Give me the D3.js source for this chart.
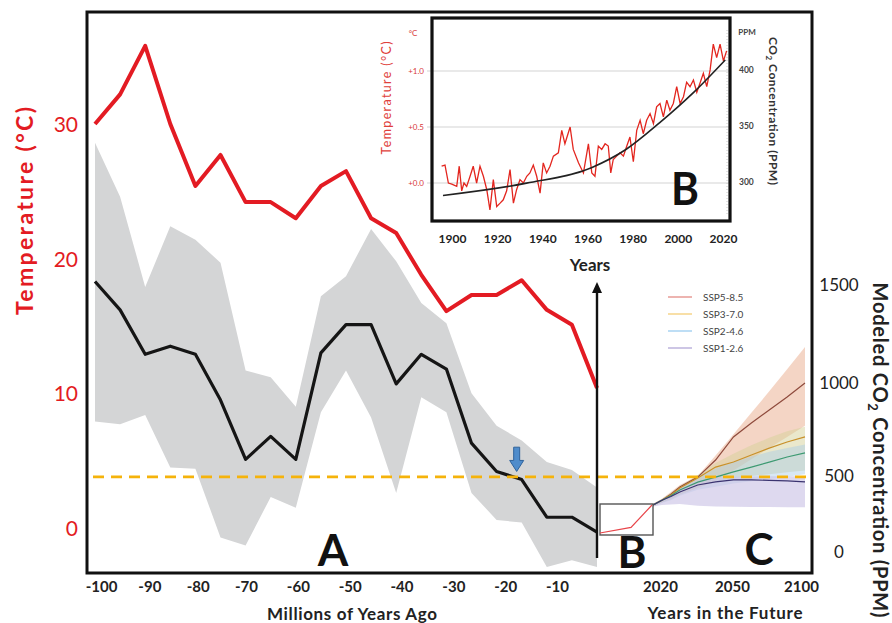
<!DOCTYPE html>
<html>
<head>
<meta charset="utf-8">
<script src="https://cdn.jsdelivr.net/npm/d3@7"></script>
<style>
  body { margin: 0; background: #fff; }
  svg text { font-family: Lato, "Open Sans", sans-serif; }
</style>
</head>
<body>
<script>
// ---- panel A: last 100 million years ----
const myaAgo   = [-100,-95,-90,-85,-80,-75,-70,-65,-60,-55,-50,-45,-40,-35,-30,-25,-20,-15,-10,-5,0];
const redTemp  = [30.0,32.2,35.8,30.0,25.4,27.7,24.2,24.2,23.0,25.4,26.5,23.0,21.9,18.8,16.1,17.3,17.3,18.4,16.2,15.1,10.4];
const meanTemp = [18.3,16.2,12.9,13.5,12.9,9.5,5.1,6.8,5.1,13.0,15.1,15.1,10.7,12.9,11.8,6.3,4.2,3.6,0.8,0.8,-0.3];
const bandHigh = [28.6,24.6,17.9,22.4,21.4,19.7,11.7,11.2,9.0,17.2,18.7,22.2,19.8,16.7,15.2,10.0,7.6,6.5,4.9,4.3,3.0];
const bandLow  = [7.9,7.7,8.4,4.5,4.4,-0.7,-1.3,2.3,1.5,8.6,11.7,8.2,2.6,9.7,8.6,2.6,0.6,0.4,-2.9,-2.4,-2.9];
const mTicks   = [-100,-90,-80,-70,-60,-50,-40,-30,-20,-10];
const tTicks   = [0,10,20,30];
const thresholdT = 3.8;          // dashed line (~500 ppm)
const arrowMark = {t: -16, top: 6.0, tip: 4.2};

// ---- panel B inset: 1895-2021 ----
const insetYears = [1895.4,1896.9,1898.4,1899.9,1902.1,1903.2,1904.3,1905.3,1906.5,1908.0,
  1909.4,1910.9,1912.4,1913.9,1915.4,1916.8,1918.3,1919.8,1921.3,1922.7,
  1924.2,1925.7,1927.2,1928.6,1930.1,1931.6,1933.1,1934.5,1936.0,1937.5,
  1939.0,1940.4,1941.9,1943.4,1944.9,1947.1,1948.6,1950.0,1952.3,1953.7,
  1956.0,1958.2,1960.4,1961.9,1963.3,1964.8,1966.3,1967.8,1969.2,1970.3,
  1971.4,1972.9,1974.4,1975.9,1977.4,1978.8,1980.3,1981.8,1983.3,1984.7,
  1986.2,1987.7,1989.2,1990.6,1992.1,1993.6,1995.1,1996.5,1998.0,1999.5,
  2001.0,2002.5,2003.9,2005.4,2006.9,2008.4,2009.8,2011.3,2012.8,2014.3,
  2015.7,2017.2,2018.7,2020.2,2021.6];
const insetTemp = [0.15,0.16,0.00,-0.01,-0.03,0.15,-0.07,0.00,-0.03,0.06,
  0.15,0.00,0.15,0.06,-0.06,-0.24,0.03,-0.21,-0.18,-0.15,
  -0.07,0.12,-0.18,-0.06,0.03,0.00,0.06,0.09,0.16,0.06,
  -0.09,0.18,0.09,0.15,0.24,0.27,0.47,0.35,0.50,0.30,
  0.18,0.09,0.35,0.09,0.06,0.33,0.30,0.35,0.33,0.09,
  0.21,0.24,0.27,0.24,0.33,0.41,0.19,0.47,0.56,0.44,
  0.56,0.62,0.53,0.68,0.71,0.59,0.74,0.65,0.71,0.86,
  0.71,0.77,0.90,0.86,0.92,0.81,0.89,0.98,0.86,1.01,
  1.24,1.12,1.24,1.09,1.18];
const co2Years = [1896,1933,1962,1977,1992,2007,2021];
const co2Vals  = [288,299,313,329,353,380,409];
const insetYearTicks = [1900,1920,1940,1960,1980,2000,2020];
const insetTempTicks = [0,0.5,1.0];
const insetCo2Ticks  = [300,350,400];
const miniYears = [1896,1970,2020];
const miniTemp  = [0,0.2,1.0];

// ---- panel C: SSP projections ----
const fanYears = [2015,2020,2025,2030,2040,2050,2060,2070,2080,2090,2100];
const ssp585   = [309,340,380,428,493,586,710,785,855,925,1000];
const ssp370   = [309,340,375,421,487,548,575,613,650,683,710];
const ssp245   = [309,340,370,408,460,493,522,548,575,602,624];
const ssp126   = [309,340,365,395,441,461,474,474,471,468,461];
const ssp585Hi = [318,350,395,440,500,610,725,840,955,1070,1184];
const ssp585Lo = [300,325,350,380,420,470,530,590,650,710,770];
const ssp370Hi = [316,348,390,432,505,570,620,665,705,740,765];
const ssp370Lo = [300,325,345,375,425,460,485,500,510,520,530];
const ssp245Hi = [315,346,385,425,490,540,575,605,630,650,670];
const ssp245Lo = [300,322,340,370,410,430,450,465,480,495,510];
const ssp126Hi = [314,344,380,420,470,490,495,497,498,498,498];
const ssp126Lo = [300,310,312,315,305,300,298,296,296,295,294];
const scenNames = ["SSP5-8.5","SSP3-7.0","SSP2-4.6","SSP1-2.6"];
const futureTicks = [2020,2050,2100];
const ppmTicks = [0,500,1000,1500];

const W = 892, H = 623;
const svg = d3.select("body").append("svg").attr("width", W).attr("height", H);
svg.append("rect").attr("width", W).attr("height", H).attr("fill", "#fff");

// scales
const xA = d3.scaleLinear().domain([-100, 0]).range([95, 597]);
const xALab = d3.scaleLinear().domain([-100, -70, -10]).range([101, 246, 557]);
const yT = d3.scaleLinear().domain([0, 30]).range([528, 124]);
const xC = d3.scaleLinear().domain([2015, 2100]).range([653, 805]);
const xCLab = d3.scaleLinear().domain([2020, 2050, 2100]).range([660, 732, 801]);
const yC = d3.scaleLinear().domain([0, 500, 1000, 1500]).range([552, 476, 383, 285]);
const xI = d3.scaleLinear().domain([1900, 2020]).range([452, 723]);
const yI = d3.scaleLinear().domain([0, 1]).range([183, 71]);
const yIco2 = d3.scaleLinear().domain([300, 400]).range([182, 70]);
const xB = d3.scaleLinear().domain([1896, 2020]).range([600, 652]);
const yB = d3.scaleLinear().domain([0, 1]).range([533, 505]);

const RED = "#e31b23";

// grey band
const band = d3.area()
  .x((d, i) => xA(myaAgo[i]))
  .y0((d, i) => yT(bandLow[i]))
  .y1((d, i) => yT(bandHigh[i]));
svg.append("path").datum(myaAgo).attr("d", band).attr("fill", "#d4d5d6");

// fan (panel C)
const fanSets = [
  {lo: ssp585Lo, hi: ssp585Hi, fill: "#f1cbb6", op: 0.8},
  {lo: ssp370Lo, hi: ssp370Hi, fill: "#d6d19a", op: 0.5},
  {lo: ssp245Lo, hi: ssp245Hi, fill: "#a9cbe6", op: 0.45},
  {lo: ssp126Lo, hi: ssp126Hi, fill: "#cdc4e6", op: 0.65}
];
fanSets.forEach(function(s) {
  const a = d3.area()
    .x((d, i) => xC(fanYears[i]))
    .y0((d, i) => yC(s.lo[i]))
    .y1((d, i) => yC(s.hi[i]));
  svg.append("path").datum(fanYears).attr("d", a)
    .attr("fill", s.fill).attr("fill-opacity", s.op);
});
const scenLines = [
  {vals: ssp585, color: "#8e4a3c", legend: "#e79b96"},
  {vals: ssp370, color: "#c8902a", legend: "#f6d48a"},
  {vals: ssp245, color: "#3d9a72", legend: "#a9d3f2"},
  {vals: ssp126, color: "#3b3470", legend: "#bdb3dc"}
];
scenLines.forEach(function(s) {
  const l = d3.line().x((d, i) => xC(fanYears[i])).y(d => yC(d));
  svg.append("path").datum(s.vals).attr("d", l)
    .attr("fill", "none").attr("stroke", s.color).attr("stroke-width", 1.2);
});

// legend
scenNames.forEach(function(name, i) {
  const y = 297 + i * 17;
  svg.append("line").attr("x1", 668).attr("x2", 692).attr("y1", y).attr("y2", y)
    .attr("stroke", scenLines[i].legend).attr("stroke-width", 1.5);
  svg.append("text").attr("x", 703).attr("y", y + 3.5).text(name)
    .attr("font-size", "10px").attr("fill", "#444");
});

// temperature lines
const lineA = vals => d3.line().x((d, i) => xA(myaAgo[i])).y(d => yT(d))(vals);
svg.append("path").attr("d", lineA(meanTemp))
  .attr("fill", "none").attr("stroke", "#151515").attr("stroke-width", 3.2)
  .attr("stroke-linejoin", "round");
svg.append("path").attr("d", lineA(redTemp))
  .attr("fill", "none").attr("stroke", RED).attr("stroke-width", 4)
  .attr("stroke-linejoin", "round");

// dashed threshold line
svg.append("line")
  .attr("x1", xA(-100) - 2).attr("x2", xC(2100) + 3)
  .attr("y1", yT(thresholdT)).attr("y2", yT(thresholdT))
  .attr("stroke", "#f5b30b").attr("stroke-width", 2.6)
  .attr("stroke-dasharray", "11,7");

// blue arrow
{
  const ax = xA(arrowMark.t), y0 = yT(arrowMark.top), y1 = yT(arrowMark.tip);
  const p = d3.path();
  p.moveTo(ax - 3, y0); p.lineTo(ax + 3, y0); p.lineTo(ax + 3, y1 - 11);
  p.lineTo(ax + 7, y1 - 11); p.lineTo(ax, y1); p.lineTo(ax - 7, y1 - 11);
  p.lineTo(ax - 3, y1 - 11); p.closePath();
  svg.append("path").attr("d", p.toString())
    .attr("fill", "#4f8ccb").attr("stroke", "#2f639c").attr("stroke-width", 1);
}

// small box B with the recent warming
svg.append("rect").attr("x", 600).attr("y", 504).attr("width", 53).attr("height", 31)
  .attr("fill", "none").attr("stroke", "#555").attr("stroke-width", 1.4);
svg.append("path")
  .attr("d", d3.line().x((d, i) => xB(miniYears[i])).y(d => yB(d))(miniTemp))
  .attr("fill", "none").attr("stroke", "#e8454a").attr("stroke-width", 1.2);

// divider arrow between A and B
{
  const x0 = xA(0);
  svg.append("line").attr("x1", x0).attr("x2", x0).attr("y1", 558).attr("y2", 290)
    .attr("stroke", "#111").attr("stroke-width", 2.4);
  svg.append("path").attr("d", `M${x0},282 L${x0 + 5},293 L${x0 - 5},293 Z`).attr("fill", "#111");
}

// main frame
svg.append("rect").attr("x", 87).attr("y", 12).attr("width", 725).attr("height", 561)
  .attr("fill", "none").attr("stroke", "#111").attr("stroke-width", 3);

// axes
const axL = svg.append("g").attr("transform", "translate(87,0)")
  .call(d3.axisLeft(yT).tickValues(tTicks).tickSize(0).tickPadding(9));
axL.select(".domain").remove();
axL.selectAll("text").attr("fill", RED).attr("font-size", "21px").attr("dy", "0.35em");

const axB = svg.append("g").attr("transform", "translate(0,573)")
  .call(d3.axisBottom(xALab).tickValues(mTicks).tickSize(0).tickPadding(8).tickFormat(d => String(d)));
axB.select(".domain").remove();
axB.selectAll("text").attr("fill", "#222").attr("font-size", "15px").attr("font-weight", "bold");

const axC = svg.append("g").attr("transform", "translate(0,573)")
  .call(d3.axisBottom(xCLab).tickValues(futureTicks).tickSize(0).tickPadding(8).tickFormat(d => String(d)));
axC.select(".domain").remove();
axC.selectAll("text").attr("fill", "#222").attr("font-size", "15px").attr("font-weight", "bold");

const axR = svg.append("g").attr("transform", "translate(812,0)")
  .call(d3.axisRight(yC).tickValues(ppmTicks).tickSize(0).tickPadding(27).tickFormat(d => String(d)));
axR.select(".domain").remove();
axR.selectAll("text").attr("fill", "#222").attr("font-size", "17px").attr("text-anchor", "middle");

// axis titles
svg.append("text").attr("transform", "translate(33,211) rotate(-90)")
  .attr("text-anchor", "middle").attr("fill", RED).attr("font-size", "23px")
  .attr("font-weight", "bold").attr("textLength", 208).text("Temperature (°C)");
svg.append("text").attr("x", 352).attr("y", 620).attr("text-anchor", "middle")
  .attr("font-size", "17px").attr("font-weight", "bold").attr("fill", "#222")
  .attr("textLength", 170).text("Millions of Years Ago");
svg.append("text").attr("x", 725).attr("y", 619).attr("text-anchor", "middle")
  .attr("font-size", "17px").attr("font-weight", "bold").attr("fill", "#222")
  .attr("textLength", 155).text("Years in the Future");
{
  const t = svg.append("text").attr("transform", "translate(873,450) rotate(90)")
    .attr("text-anchor", "middle").attr("font-size", "20px").attr("font-weight", "bold")
    .attr("fill", "#222").attr("textLength", 335);
  t.append("tspan").text("Modeled CO");
  t.append("tspan").attr("dy", 5).attr("font-size", "13px").text("2");
  t.append("tspan").attr("dy", -5).text(" Concentration (PPM)");
}

// big panel letters
[["A", 333, 566], ["B", 632, 568], ["C", 759, 565]].forEach(function(l) {
  svg.append("text").attr("x", l[1]).attr("y", l[2]).attr("text-anchor", "middle")
    .attr("font-family", "'Liberation Sans', Arial, sans-serif")
    .attr("font-size", "44px").attr("font-weight", "bold").attr("fill", "#111").text(l[0]);
});

// ---- inset chart ----
const inset = svg.append("g");
inset.append("rect").attr("x", 432).attr("y", 18).attr("width", 298).attr("height", 203)
  .attr("fill", "#fff");
insetTempTicks.forEach(function(t) {
  inset.append("line").attr("x1", 427).attr("x2", 730).attr("y1", yI(t)).attr("y2", yI(t))
    .attr("stroke", "#e2e2e2").attr("stroke-width", 1.3);
});
inset.append("line").attr("x1", 727).attr("x2", 727).attr("y1", 30).attr("y2", 215)
  .attr("stroke", "#c8c8c8").attr("stroke-dasharray", "1,2");
inset.append("path")
  .attr("d", d3.line().x((d, i) => xI(insetYears[i])).y(d => yI(d))(insetTemp))
  .attr("fill", "none").attr("stroke", "#e3261f").attr("stroke-width", 1.3);
inset.append("path")
  .attr("d", d3.line().curve(d3.curveMonotoneX).x((d, i) => xI(co2Years[i])).y(d => yIco2(d))(co2Vals))
  .attr("fill", "none").attr("stroke", "#222").attr("stroke-width", 1.6);
inset.append("rect").attr("x", 432).attr("y", 18).attr("width", 298).attr("height", 203)
  .attr("fill", "none").attr("stroke", "#111").attr("stroke-width", 3.2);

const iaL = inset.append("g").attr("transform", "translate(424,0)")
  .call(d3.axisLeft(yI).tickValues(insetTempTicks).tickSize(0).tickPadding(0)
    .tickFormat(d => "+" + d.toFixed(1)));
iaL.select(".domain").remove();
iaL.selectAll("text").attr("fill", "#d8383a").attr("font-size", "8px");
inset.append("text").attr("x", 413).attr("y", 36).attr("text-anchor", "middle")
  .attr("fill", "#d8383a").attr("font-size", "8px").text("°C");

const iaR = inset.append("g").attr("transform", "translate(730,0)")
  .call(d3.axisRight(yIco2).tickValues(insetCo2Ticks).tickSize(0).tickPadding(9));
iaR.select(".domain").remove();
iaR.selectAll("text").attr("fill", "#444").attr("font-size", "8.5px").attr("font-weight", "bold");
inset.append("text").attr("x", 747).attr("y", 35).attr("text-anchor", "middle")
  .attr("fill", "#444").attr("font-size", "8px").attr("font-weight", "bold").text("PPM");

const iaB = inset.append("g").attr("transform", "translate(0,221)")
  .call(d3.axisBottom(xI).tickValues(insetYearTicks).tickSize(0).tickPadding(13).tickFormat(d => String(d)));
iaB.select(".domain").remove();
iaB.selectAll("text").attr("fill", "#222").attr("font-size", "12px").attr("font-weight", "bold");

inset.append("text").attr("x", 590).attr("y", 271).attr("text-anchor", "middle")
  .attr("font-size", "17px").attr("font-weight", "bold").attr("fill", "#222").text("Years");
inset.append("text").attr("transform", "translate(391,98) rotate(-90)")
  .attr("text-anchor", "middle").attr("fill", "#e0403a").attr("font-size", "12.5px")
  .attr("textLength", 113).text("Temperature (°C)");
{
  const t = inset.append("text").attr("transform", "translate(769,111) rotate(90)")
    .attr("text-anchor", "middle").attr("font-size", "12px").attr("font-weight", "bold")
    .attr("fill", "#333").attr("textLength", 148);
  t.append("tspan").text("CO");
  t.append("tspan").attr("dy", 3).attr("font-size", "8px").text("2");
  t.append("tspan").attr("dy", -3).text(" Concentration (PPM)");
}
inset.append("text").attr("x", 685).attr("y", 205).attr("text-anchor", "middle")
  .attr("font-family", "'Liberation Sans', Arial, sans-serif")
  .attr("font-size", "46px").attr("font-weight", "bold").attr("fill", "#111")
  .attr("textLength", 28).attr("lengthAdjust", "spacingAndGlyphs").text("B");
</script>
</body>
</html>
